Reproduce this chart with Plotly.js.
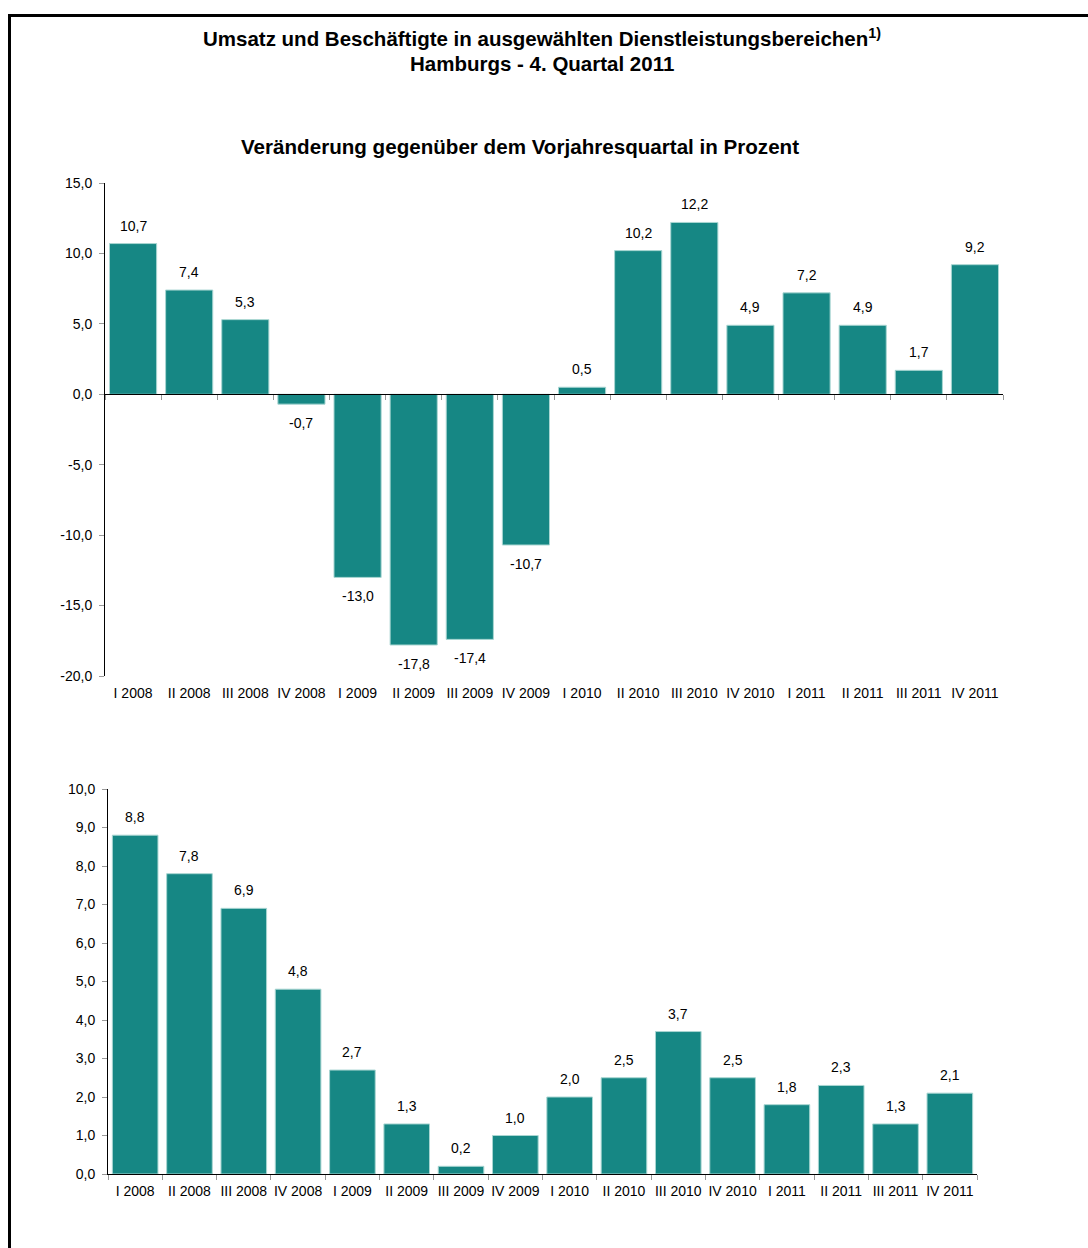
<!DOCTYPE html>
<html>
<head>
<meta charset="utf-8">
<script src="https://cdn.plot.ly/plotly-3.0.1.min.js"></script>
<style>html,body{margin:0;padding:0;background:#fff;}#chart{width:1088px;height:1248px;}</style>
</head>
<body>
<div id="chart"></div>
<script>
const categories = ["I 2008","II 2008","III 2008","IV 2008","I 2009","II 2009","III 2009","IV 2009","I 2010","II 2010","III 2010","IV 2010","I 2011","II 2011","III 2011","IV 2011"];
const umsatz = [10.7, 7.4, 5.3, -0.7, -13.0, -17.8, -17.4, -10.7, 0.5, 10.2, 12.2, 4.9, 7.2, 4.9, 1.7, 9.2];
const beschaeftigte = [8.8, 7.8, 6.9, 4.8, 2.7, 1.3, 0.2, 1.0, 2.0, 2.5, 3.7, 2.5, 1.8, 2.3, 1.3, 2.1];
const topTicks = [-20, -15, -10, -5, 0, 5, 10, 15];
const botTicks = [0, 1, 2, 3, 4, 5, 6, 7, 8, 9, 10];

const barColor = '#168784';
const barEdge = '#a9d6d2';
const font = 'Liberation Sans, Arial, sans-serif';

const topDom = [1 - 676/1248, 1 - 183/1248];
const botDom = [1 - 1174/1248, 1 - 789/1248];
const topX = [105/1088, 1003/1088];
const botX = [108/1088, 977/1088];
const zeroPos = topDom[0] + (20/35) * (topDom[1] - topDom[0]);

const fmt = v => v.toFixed(1).replace('.', ',');

const traces = [
  {type:'bar', x:categories, y:umsatz, xaxis:'x', yaxis:'y',
   marker:{color:barColor, line:{color:barEdge, width:1}}, hoverinfo:'skip'},
  {type:'scatter', mode:'none', x:categories, y:categories.map(()=>0), xaxis:'x3', yaxis:'y',
   hoverinfo:'skip', showlegend:false},
  {type:'bar', x:categories, y:beschaeftigte, xaxis:'x2', yaxis:'y2',
   marker:{color:barColor, line:{color:barEdge, width:1}}, hoverinfo:'skip'}
];

const annotations = [];
umsatz.forEach((v,i) => annotations.push({x:categories[i], y:v, xref:'x', yref:'y', text:fmt(v),
  showarrow:false, yanchor:'middle', yshift: v >= 0 ? 18 : -19, font:{family:font, size:14, color:'#000'}}));
beschaeftigte.forEach((v,i) => annotations.push({x:categories[i], y:v, xref:'x2', yref:'y2', text:fmt(v),
  showarrow:false, yanchor:'middle', yshift:18, font:{family:font, size:14, color:'#000'}}));
annotations.push({xref:'paper', yref:'paper', x:542/1088, xanchor:'center', y:1 - 63/1248, yanchor:'middle', showarrow:false,
  text:'<b>Hamburgs - 4. Quartal 2011</b>', font:{family:font, size:20.5, color:'#000'}});
annotations.push({xref:'paper', yref:'paper', x:520/1088, xanchor:'center', y:1 - 146/1248, yanchor:'middle', showarrow:false,
  text:'<b>Veränderung gegenüber dem Vorjahresquartal in Prozent</b>', font:{family:font, size:20.6, color:'#000'}});

const tickFont = {family:font, size:14, color:'#000'};
const layout = {
  width:1088, height:1248, margin:{l:0, r:0, t:0, b:0},
  paper_bgcolor:'#fff', plot_bgcolor:'rgba(0,0,0,0)',
  separators:',.', showlegend:false, bargap:0.16,
  font:{family:font, size:14, color:'#000'},
  title:{text:'<b>Umsatz und Beschäftigte in ausgewählten Dienstleistungsbereichen<sup>1)</sup></b>',
    x:542/1088, xanchor:'center', y:1 - 39/1248, yanchor:'middle', font:{family:font, size:20.5, color:'#000'}},
  xaxis:{domain:topX, anchor:'y', type:'category', range:[-0.5,15.5], showline:false, ticks:'',
    showgrid:false, zeroline:false, tickfont:tickFont, tickangle:0, ticklabelstandoff:7},
  xaxis3:{domain:topX, overlaying:'x', anchor:'free', position:zeroPos, type:'category', range:[-0.5,15.5],
    showline:true, linecolor:'#000', linewidth:1, ticks:'outside', tickson:'boundaries', ticklen:5,
    tickcolor:'#999', showticklabels:false, showgrid:false, zeroline:false},
  yaxis:{domain:topDom, anchor:'x', range:[-20,15], tickmode:'array', tickvals:topTicks, ticktext:topTicks.map(fmt),
    ticks:'outside', ticklen:5, tickcolor:'#999', showline:true, linecolor:'#000', linewidth:1, showgrid:false,
    zeroline:false, tickfont:tickFont, ticklabelstandoff:4},
  xaxis2:{domain:botX, anchor:'y2', type:'category', range:[-0.5,15.5], showline:true, linecolor:'#000',
    linewidth:1, ticks:'outside', tickson:'boundaries', ticklen:5, tickcolor:'#999', showgrid:false,
    zeroline:false, tickfont:tickFont, tickangle:0, ticklabelstandoff:4},
  yaxis2:{domain:botDom, anchor:'x2', range:[0,10], tickmode:'array', tickvals:botTicks, ticktext:botTicks.map(fmt),
    ticks:'outside', ticklen:5, tickcolor:'#999', showline:true, linecolor:'#000', linewidth:1, showgrid:false,
    zeroline:false, tickfont:tickFont, ticklabelstandoff:4},
  annotations:annotations,
  shapes:[
    {type:'line', xref:'paper', yref:'paper', x0:9.5/1088, x1:1, y0:1 - 15.5/1248, y1:1 - 15.5/1248, line:{color:'#000', width:3}},
    {type:'line', xref:'paper', yref:'paper', x0:9.5/1088, x1:9.5/1088, y0:0, y1:1 - 14/1248, line:{color:'#000', width:3}}
  ]
};

Plotly.newPlot('chart', traces, layout, {staticPlot:true, displayModeBar:false});
</script>
</body>
</html>
